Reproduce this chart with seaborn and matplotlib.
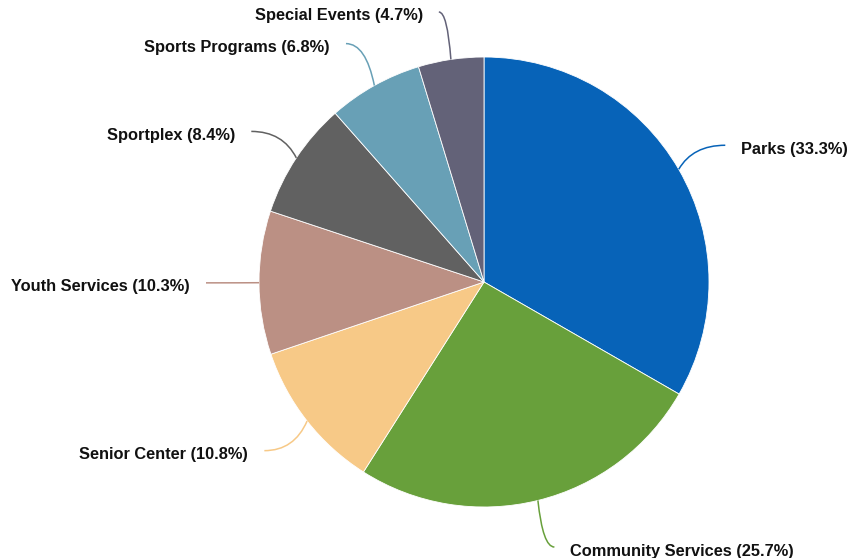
import numpy as np
import matplotlib.pyplot as plt
from matplotlib.path import Path
from matplotlib.patches import PathPatch
import seaborn as sns

# data
categories = ["Parks", "Community Services", "Senior Center", "Youth Services",
              "Sportplex", "Sports Programs", "Special Events"]
shares = [33.3, 25.7, 10.8, 10.3, 8.4, 6.8, 4.7]
colors = ["#0763b8", "#68a03b", "#f7c987", "#bb9084", "#616161", "#68a0b6", "#636278"]

sns.set_theme(style="white")
plt.rcParams['font.family'] = ['Liberation Sans', 'DejaVu Sans']

W, H = 848, 558
cx, cy, R = 484, H - 282, 225
label_r = R + 48

fig = plt.figure(figsize=(W / 100, H / 100), dpi=100)
ax = fig.add_axes([0, 0, 1, 1])

wedges, _ = ax.pie(shares, colors=colors, startangle=90, counterclock=False,
                   center=(cx, cy), radius=R,
                   wedgeprops=dict(edgecolor="white", linewidth=0.6))
ax.set_xlim(0, W)
ax.set_ylim(0, H)
ax.set_aspect("equal")
ax.axis("off")

for w, name, val, col in zip(wedges, categories, shares, colors):
    ang = np.deg2rad((w.theta1 + w.theta2) / 2)
    ex, ey = cx + R * np.cos(ang), cy + R * np.sin(ang)
    ax_, ay_ = cx + label_r * np.cos(ang), cy + label_r * np.sin(ang)
    side = 1 if np.cos(ang) >= 0 else -1
    # curved connector, ends horizontal just before the label
    end = (ax_ + side * 5, ay_)
    ctrl = (ex + 0.3 * (end[0] - ex), ay_)
    path = Path([(ex, ey), ctrl, end], [Path.MOVETO, Path.CURVE3, Path.CURVE3])
    ax.add_patch(PathPatch(path, facecolor="none", edgecolor=col, lw=1.1))
    ax.text(ax_ + side * 21, ay_ - 4, f"{name} ({val}%)",
            ha="left" if side > 0 else "right", va="center",
            fontsize=11.8, fontweight="bold", color="#111111")

fig.savefig("out.png", dpi=100)
